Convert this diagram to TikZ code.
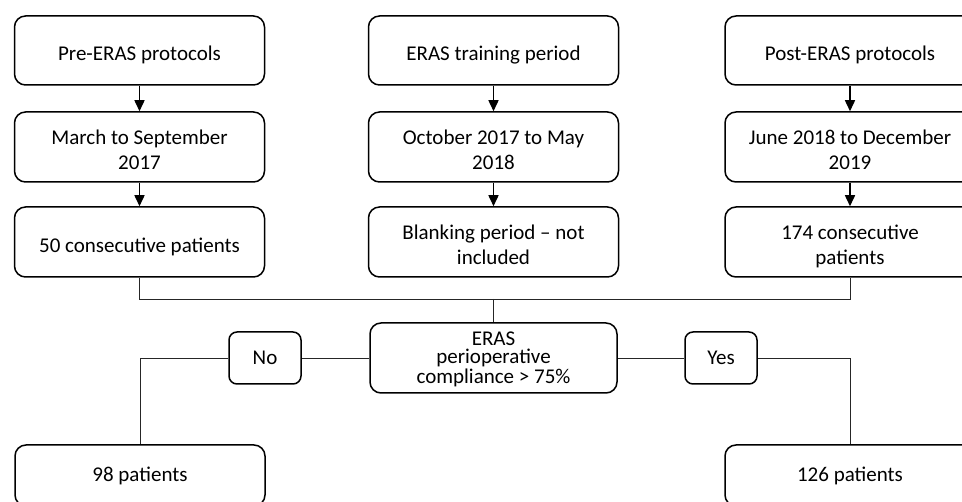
\documentclass[tikz,border=0pt]{standalone}
\usepackage{fontspec}
\setmainfont{Carlito}
\usetikzlibrary{arrows.meta}

% centred block of lines, taking no room of its own, shifted by #1
\newcommand\boxlines[2][-10.5pt]{\raisebox{#1}[0pt][0pt]{\begin{tabular}{@{}c@{}}#2\end{tabular}}}

\tikzset{
  txt/.style={font=\fontsize{21pt}{25pt}\selectfont},
  stage/.style={txt, draw=black, line width=1.5pt, rounded corners=11pt,
    minimum width=250pt, minimum height=70pt, inner sep=0pt},
  choice/.style={txt, draw=black, line width=1.5pt, rounded corners=8pt,
    minimum width=72pt, minimum height=52pt, inner sep=2pt},
  flow/.style={line width=1.5pt, -{Triangle[length=11pt,width=10pt]}},
  link/.style={line width=0.9pt, black!85},
}

\begin{document}
\begin{tikzpicture}[x=1pt,y=-1pt]
  \clip (0,0) rectangle (962,502);
  \fill[white] (0,0) rectangle (962,502);

  % three study phases, one column each
  \node[stage, minimum height=69pt] (pre1)  at (139.5,50.5) {\boxlines{Pre-ERAS protocols}};
  \node[stage] (pre2)  at (139.5,147) {\boxlines[-10pt]{March to September\\2017}};
  \node[stage] (pre3)  at (139.5,242) {\boxlines{50 consecutive patients}};

  \node[stage, minimum height=69pt] (mid1)  at (493.5,50.5) {\boxlines{ERAS training period}};
  \node[stage] (mid2)  at (493.5,147) {\boxlines[-10pt]{October 2017 to May\\2018}};
  \node[stage] (mid3)  at (493.5,242) {\boxlines[-10pt]{Blanking period -- not\\included}};

  \node[stage, minimum height=69pt] (post1) at (850,50.5) {\boxlines{Post-ERAS protocols}};
  \node[stage] (post2) at (850,147) {\boxlines[-10pt]{June 2018 to December\\2019}};
  \node[stage] (post3) at (850,242) {\boxlines[-10pt]{174 consecutive\\patients}};

  \draw[flow] (pre1.south)  -- (pre2.north);
  \draw[flow] (pre2.south)  -- (pre3.north);
  \draw[flow] (mid1.south)  -- (mid2.north);
  \draw[flow] (mid2.south)  -- (mid3.north);
  \draw[flow] (post1.south) -- (post2.north);
  \draw[flow] (post2.south) -- (post3.north);

  % compliance split
  \node[stage, minimum width=247pt] (comp) at (493.5,358)
    {\boxlines[-6.5pt]{ERAS\\[-6.5pt]perioperative\\[-5pt]compliance > 75\%}};
  \node[choice] (no)  at (265,358) {No};
  \node[choice] (yes) at (721,358) {Yes};

  \node[stage, minimum height=61pt] (p98)  at (140,475.5) {98 patients};
  \node[stage, minimum height=61pt] (p126) at (850,475.5) {126 patients};

  \coordinate (bus) at (comp.north |- 0,299);
  \draw[link] (pre3.south) -- (pre3.south |- bus) -- (post3.south |- bus) -- (post3.south);
  \draw[link] (bus) -- (comp.north);
  \draw[link] (comp.west) -- (no.east);
  \draw[link] (no.west) -| (p98.north);
  \draw[link] (comp.east) -- (yes.west);
  \draw[link] (yes.east) -| (p126.north);
\end{tikzpicture}
\end{document}
